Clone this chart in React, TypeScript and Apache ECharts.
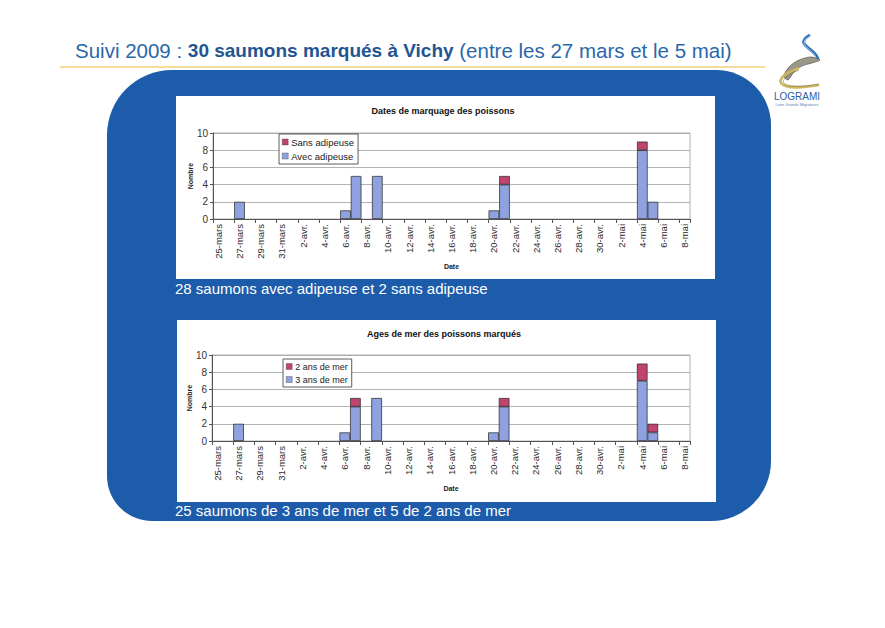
import React, { useEffect, useRef } from 'react';
import * as echarts from 'echarts';

const FONT = '"Liberation Sans", Arial, sans-serif';

const categories = [
  '25-mars', '26-mars', '27-mars', '28-mars', '29-mars', '30-mars', '31-mars',
  '1-avr.', '2-avr.', '3-avr.', '4-avr.', '5-avr.', '6-avr.', '7-avr.', '8-avr.', '9-avr.', '10-avr.',
  '11-avr.', '12-avr.', '13-avr.', '14-avr.', '15-avr.', '16-avr.', '17-avr.', '18-avr.', '19-avr.', '20-avr.',
  '21-avr.', '22-avr.', '23-avr.', '24-avr.', '25-avr.', '26-avr.', '27-avr.', '28-avr.', '29-avr.', '30-avr.',
  '1-mai', '2-mai', '3-mai', '4-mai', '5-mai', '6-mai', '7-mai', '8-mai',
];

// Chart 1 : Dates de marquage des poissons
const avecAdipeuse = [
  0, 0, 2, 0, 0, 0, 0,
  0, 0, 0, 0, 0, 1, 5, 0, 5, 0,
  0, 0, 0, 0, 0, 0, 0, 0, 0, 1,
  4, 0, 0, 0, 0, 0, 0, 0, 0, 0,
  0, 0, 0, 8, 2, 0, 0, 0,
];
const sansAdipeuse = [
  0, 0, 0, 0, 0, 0, 0,
  0, 0, 0, 0, 0, 0, 0, 0, 0, 0,
  0, 0, 0, 0, 0, 0, 0, 0, 0, 0,
  1, 0, 0, 0, 0, 0, 0, 0, 0, 0,
  0, 0, 0, 1, 0, 0, 0, 0,
];

// Chart 2 : Ages de mer des poissons marqués
const troisAnsDeMer = [
  0, 0, 2, 0, 0, 0, 0,
  0, 0, 0, 0, 0, 1, 4, 0, 5, 0,
  0, 0, 0, 0, 0, 0, 0, 0, 0, 1,
  4, 0, 0, 0, 0, 0, 0, 0, 0, 0,
  0, 0, 0, 7, 1, 0, 0, 0,
];
const deuxAnsDeMer = [
  0, 0, 0, 0, 0, 0, 0,
  0, 0, 0, 0, 0, 0, 1, 0, 0, 0,
  0, 0, 0, 0, 0, 0, 0, 0, 0, 0,
  1, 0, 0, 0, 0, 0, 0, 0, 0, 0,
  0, 0, 0, 2, 1, 0, 0, 0,
];

const yMin = 0;
const yMax = 10;
const yStep = 2;

const BLUE = '#8fa2df';
const RED = '#c0456e';

const nz = (v: number) => (v === 0 ? null : v);

function makeX(gridIndex: number) {
  return {
    type: 'category',
    gridIndex,
    data: categories,
    boundaryGap: true,
    axisLine: { lineStyle: { color: '#555', width: 1 } },
    axisTick: { show: true, interval: 1, length: 4, lineStyle: { color: '#555' } },
    axisLabel: { interval: 1, rotate: 90, fontSize: 9.5, color: '#2a2a2a', fontFamily: FONT, margin: 5 },
    splitLine: { show: false },
    name: 'Date',
    nameLocation: 'middle',
    nameGap: 44,
    nameMoveOverlap: false,
    nameTextStyle: { fontSize: 7, fontWeight: 'bold', color: '#222', fontFamily: FONT },
  };
}

function makeY(gridIndex: number) {
  return {
    type: 'value',
    gridIndex,
    min: yMin,
    max: yMax,
    interval: yStep,
    axisLine: { show: true, lineStyle: { color: '#555', width: 1 } },
    axisTick: { show: true, length: 3, lineStyle: { color: '#555' } },
    axisLabel: { fontSize: 10, color: '#333', fontFamily: FONT, margin: 5 },
    splitLine: { show: true, lineStyle: { color: '#a0a0a0', width: 0.8 } },
    name: 'Nombre',
    nameLocation: 'middle',
    nameGap: 19,
    nameRotate: 90,
    nameMoveOverlap: false,
    nameTextStyle: { fontSize: 7, fontWeight: 'bold', color: '#222', fontFamily: FONT },
  };
}

function makeBar(name: string, data: number[], idx: number, stack: string, color: string) {
  return {
    name,
    type: 'bar',
    xAxisIndex: idx,
    yAxisIndex: idx,
    stack,
    z: 4,
    data: data.map(nz),
    barCategoryGap: '0%',
    barGap: '0%',
    itemStyle: { color, borderColor: '#222', borderWidth: 0.7 },
    emphasis: { disabled: true },
  };
}

function makeLegend(data: string[], left: number, top: number, fontSize: number) {
  return {
    orient: 'vertical',
    left,
    top,
    data,
    icon: 'rect',
    itemWidth: 6,
    itemHeight: 6,
    itemGap: 4,
    padding: [3, 4, 3, 3],
    borderColor: '#333',
    borderWidth: 0.8,
    backgroundColor: '#ffffff',
    selectedMode: false,
    itemStyle: { borderColor: '#444', borderWidth: 0.4 },
    textStyle: { fontSize, color: '#222', fontFamily: FONT, padding: [0, 0, 0, -2] },
  };
}

export default function App() {
  const ref = useRef<HTMLDivElement>(null);

  useEffect(() => {
    if (!ref.current) return;
    const chart = echarts.init(ref.current, undefined, { renderer: 'svg' });

    const option = {
      animation: false,
      backgroundColor: '#ffffff',
      grid: [
        { left: 213, top: 133, width: 477, height: 86, show: true, borderColor: '#a0a0a0', borderWidth: 0.8, backgroundColor: 'transparent' },
        { left: 212, top: 355, width: 478, height: 86, show: true, borderColor: '#a0a0a0', borderWidth: 0.8, backgroundColor: 'transparent' },
      ],
      xAxis: [makeX(0), makeX(1)],
      yAxis: [makeY(0), makeY(1)],
      legend: [
        makeLegend(['Sans adipeuse', 'Avec adipeuse'], 279, 134, 9.5),
        makeLegend(['2 ans de mer', '3 ans de mer'], 283, 359, 9),
      ],
      series: [
        makeBar('Avec adipeuse', avecAdipeuse, 0, 'c1', BLUE),
        makeBar('Sans adipeuse', sansAdipeuse, 0, 'c1', RED),
        makeBar('3 ans de mer', troisAnsDeMer, 1, 'c2', BLUE),
        makeBar('2 ans de mer', deuxAnsDeMer, 1, 'c2', RED),
      ],
      graphic: {
        elements: [
          // blue rounded background
          {
            type: 'rect', z: -10,
            shape: { x: 107, y: 70, width: 664, height: 451, r: [65, 55, 60, 45] },
            style: { fill: '#1c5caa' },
          },
          // white chart panels
          { type: 'rect', z: -9, shape: { x: 176, y: 96, width: 539, height: 183 }, style: { fill: '#ffffff' } },
          { type: 'rect', z: -9, shape: { x: 177, y: 320, width: 539, height: 182 }, style: { fill: '#ffffff' } },
          // orange rule under the page title
          {
            type: 'line', z: -8,
            shape: { x1: 60, y1: 67, x2: 765, y2: 67 },
            style: { stroke: '#f5cf7c', lineWidth: 1.5 },
          },
          // page title
          {
            type: 'text', x: 75, y: 50,
            style: {
              text: '{a|Suivi 2009 : }{b|30 saumons marqués à Vichy}{a| (entre les 27 mars et le 5 mai)}',
              textVerticalAlign: 'middle', verticalAlign: 'middle',
              rich: {
                a: { fontSize: 20.5, fontFamily: FONT, fill: '#2a68aa', color: '#2a68aa' },
                b: { fontSize: 19, fontFamily: FONT, fontWeight: 'bold', fill: '#1f5593', color: '#1f5593' },
              },
            },
          },
          // chart titles
          {
            type: 'text', x: 443, y: 111,
            style: { text: 'Dates de marquage des poissons', fontSize: 9, fontWeight: 'bold', fontFamily: FONT, fill: '#111', textAlign: 'center', align: 'center', textVerticalAlign: 'middle', verticalAlign: 'middle' },
          },
          {
            type: 'text', x: 444, y: 334,
            style: { text: 'Ages de mer des poissons marqués', fontSize: 9, fontWeight: 'bold', fontFamily: FONT, fill: '#111', textAlign: 'center', align: 'center', textVerticalAlign: 'middle', verticalAlign: 'middle' },
          },
          // captions
          {
            type: 'text', x: 175, y: 288,
            style: { text: '28 saumons avec adipeuse et 2 sans adipeuse', fontSize: 15, fontFamily: FONT, fill: '#ffffff', textVerticalAlign: 'middle', verticalAlign: 'middle' },
          },
          {
            type: 'text', x: 175, y: 510,
            style: { text: '25 saumons de 3 ans de mer et 5 de 2 ans de mer', fontSize: 15, fontFamily: FONT, fill: '#ffffff', textVerticalAlign: 'middle', verticalAlign: 'middle' },
          },
          // logo
          {
            type: 'bezierCurve',
            shape: { x1: 810, y1: 35, cpx1: 792, cpy1: 45, cpx2: 818, cpy2: 49, x2: 818, y2: 60 },
            style: { stroke: '#2f72bb', lineWidth: 3, fill: 'none' },
          },
          {
            type: 'bezierCurve',
            shape: { x1: 810, y1: 36, cpx1: 794, cpy1: 45, cpx2: 816, cpy2: 50, x2: 816, y2: 59 },
            style: { stroke: '#a9cbeb', lineWidth: 1, fill: 'none' },
          },
          {
            type: 'polygon',
            shape: { points: [[784, 76], [789, 67], [799, 60], [811, 57], [820, 60], [812, 63], [802, 66], [794, 72], [788, 80]], smooth: 0.3 },
            style: { fill: '#9a988a', stroke: '#4e4c44', lineWidth: 0.6 },
          },
          {
            type: 'bezierCurve',
            shape: { x1: 799, y1: 68, cpx1: 770, cpy1: 78, cpx2: 774, cpy2: 93, x2: 819, y2: 85 },
            style: { stroke: '#cdb75e', lineWidth: 2.6, fill: 'none' },
          },
          {
            type: 'bezierCurve',
            shape: { x1: 799, y1: 70, cpx1: 774, cpy1: 80, cpx2: 778, cpy2: 91, x2: 819, y2: 84 },
            style: { stroke: '#6e6a3a', lineWidth: 0.6, fill: 'none' },
          },
          {
            type: 'text', x: 797, y: 96,
            style: { text: 'LOGRAMI', fontSize: 10, fontFamily: FONT, fill: '#2b5ca6', textAlign: 'center', align: 'center', textVerticalAlign: 'middle', verticalAlign: 'middle' },
          },
          {
            type: 'text', x: 797, y: 104,
            style: { text: 'Loire Grands Migrateurs', fontSize: 4, fontFamily: FONT, fill: '#5d7fb3', textAlign: 'center', align: 'center', textVerticalAlign: 'middle', verticalAlign: 'middle' },
          },
        ],
      },
    };

    chart.setOption(option as any);
    return () => chart.dispose();
  }, []);

  return (
    <div
      ref={ref}
      style={{ position: 'fixed', left: 0, top: 0, width: 885, height: 628 }}
    />
  );
}
